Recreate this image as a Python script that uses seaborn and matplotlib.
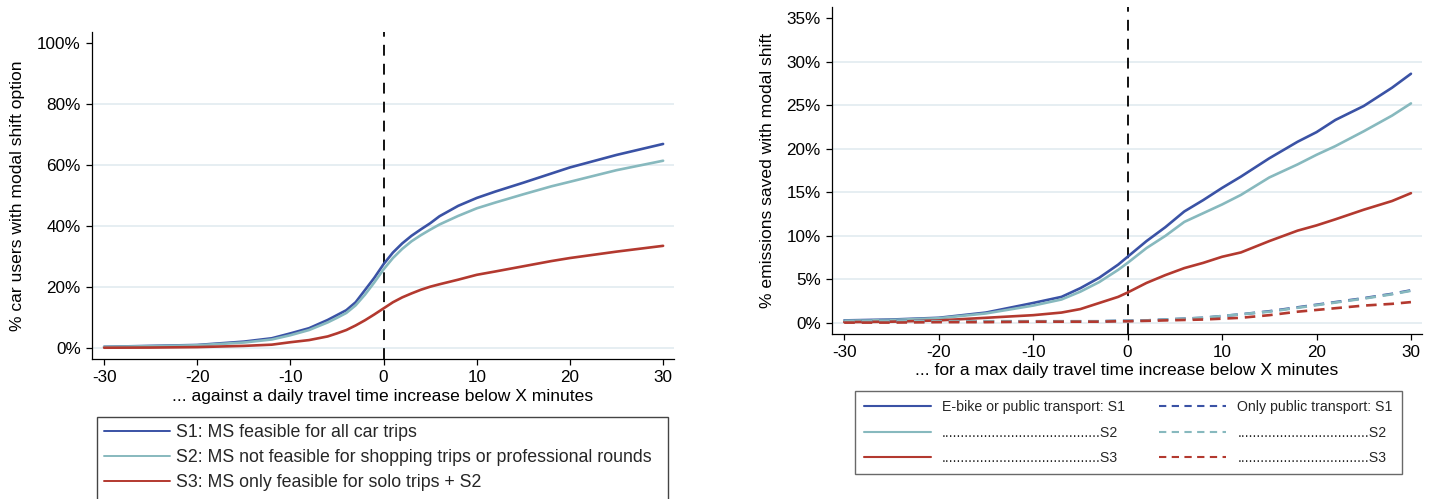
import matplotlib
matplotlib.use("Agg")
import matplotlib.pyplot as plt
from matplotlib.lines import Line2D
from matplotlib.patches import Rectangle
from matplotlib.ticker import FuncFormatter
import pandas as pd
import seaborn as sns

sns.set_style("ticks")
plt.rcParams["font.family"] = ["Liberation Sans", "DejaVu Sans"]
plt.rcParams["axes.unicode_minus"] = False

# ---- left panel: share of car users with a modal-shift option ----
x_users = [-30, -25, -20, -15, -12, -10, -8, -6, -5, -4, -3, -2, -1, 0,
           1, 2, 3, 4, 5, 6, 8, 10, 12, 15, 18, 20, 25, 30]
users_s1 = [0.4, 0.7, 1.0, 2.1, 3.2, 4.8, 6.5, 9.2, 10.8, 12.4, 15.0, 19.0, 23.0, 27.5,
            31.3, 34.3, 36.8, 38.9, 40.9, 43.2, 46.6, 49.2, 51.3, 54.2, 57.2, 59.2, 63.3, 66.9]
users_s2 = [0.4, 0.6, 0.9, 1.8, 2.8, 4.2, 5.9, 8.4, 9.9, 11.5, 14.0, 17.5, 21.5, 25.8,
            29.5, 32.5, 35.0, 37.0, 38.8, 40.5, 43.3, 45.8, 47.7, 50.4, 53.0, 54.5, 58.3, 61.4]
users_s3 = [0.1, 0.15, 0.3, 0.7, 1.1, 1.9, 2.6, 3.8, 4.8, 5.9, 7.4, 9.1, 11.0, 13.0,
            15.0, 16.6, 17.9, 19.1, 20.1, 20.9, 22.4, 24.0, 25.1, 26.8, 28.5, 29.5, 31.6, 33.5]

# ---- right panel: share of emissions saved ----
x_emis = [-30, -25, -20, -15, -10, -7, -5, -3, -1, 0, 2, 4, 6, 8, 10,
          12, 15, 18, 20, 22, 25, 28, 30]
emis_s1 = [0.3, 0.4, 0.6, 1.2, 2.3, 3.0, 4.0, 5.2, 6.7, 7.6, 9.4, 11.0, 12.8, 14.1, 15.5,
           16.8, 18.9, 20.8, 21.9, 23.3, 24.9, 27.0, 28.6]
emis_s2 = [0.25, 0.35, 0.55, 1.1, 2.0, 2.7, 3.6, 4.7, 6.1, 6.9, 8.6, 10.0, 11.6, 12.6, 13.6,
           14.7, 16.7, 18.2, 19.3, 20.3, 22.0, 23.8, 25.2]
emis_s3 = [0.1, 0.15, 0.3, 0.6, 0.9, 1.2, 1.6, 2.3, 3.0, 3.5, 4.6, 5.5, 6.3, 6.9, 7.6,
           8.1, 9.4, 10.6, 11.2, 11.9, 13.0, 14.0, 14.9]
pt_s1 = [0.25, 0.25, 0.2, 0.2, 0.2, 0.2, 0.2, 0.2, 0.25, 0.25, 0.3, 0.4, 0.5, 0.6, 0.8,
         1.0, 1.35, 1.8, 2.1, 2.4, 2.85, 3.35, 3.75]
pt_s2 = [0.25, 0.25, 0.2, 0.2, 0.2, 0.2, 0.2, 0.2, 0.25, 0.25, 0.3, 0.4, 0.5, 0.6, 0.8,
         1.0, 1.3, 1.75, 2.05, 2.35, 2.8, 3.3, 3.7]
pt_s3 = [0.05, 0.05, 0.1, 0.1, 0.15, 0.15, 0.15, 0.15, 0.2, 0.2, 0.25, 0.3, 0.35, 0.4, 0.5,
         0.6, 0.9, 1.3, 1.5, 1.7, 2.0, 2.2, 2.4]

users_labels = ["S1: MS feasible for all car trips",
                "S2: MS not feasible for shopping trips or professional rounds",
                "S3: MS only feasible for solo trips + S2"]
emis_labels = ["E-bike or public transport: S1",
               "." * 41 + "S2",
               "." * 41 + "S3",
               "Only public transport: S1",
               "." * 34 + "S2",
               "." * 34 + "S3"]

BLUE, TEAL, RED = "#3a52a5", "#87b9be", "#b3392f"
GRID = "#e4edf1"
DASH = (0, (4, 2.6))
LW = 1.9

fig = plt.figure(figsize=(14.37, 4.99), dpi=100)
W, H = 1437.0, 499.0
ax1 = fig.add_axes([92 / W, 1 - 359 / H, 582 / W, 327 / H])
ax2 = fig.add_axes([832 / W, 1 - 334 / H, 590 / W, 327 / H])

df_users = pd.DataFrame({"x": x_users, "S1": users_s1, "S2": users_s2, "S3": users_s3})
df_emis = pd.DataFrame({"x": x_emis, "S1": emis_s1, "S2": emis_s2, "S3": emis_s3,
                        "P1": pt_s1, "P2": pt_s2, "P3": pt_s3})


def style_axis(ax, ylim, yticks, ylabel, xlabel, ylab_x, xlab_y):
    ax.set_xlim(-31.3, 31.17)
    ax.set_ylim(*ylim)
    ax.set_xticks([-30, -20, -10, 0, 10, 20, 30])
    ax.set_yticks(yticks)
    ax.yaxis.set_major_formatter(FuncFormatter(lambda v, p: f"{v:.0f}%"))
    for t in yticks[:-1]:
        ax.axhline(t, color=GRID, lw=1.3, zorder=0)
    ax.axvline(0, color="black", lw=1.3, linestyle=(0, (6, 4.5)), zorder=1)
    for s in ["top", "right"]:
        ax.spines[s].set_visible(False)
    for s in ["left", "bottom"]:
        ax.spines[s].set_color("black")
        ax.spines[s].set_linewidth(0.9)
    ax.tick_params(axis="both", length=4.5, width=0.9, color="black",
                   labelsize=12.3, labelcolor="black", pad=3.6, direction="out")
    ax.set_ylabel(ylabel, fontsize=12.6, color="black")
    ax.set_xlabel(xlabel, fontsize=12.6, color="black")
    ax.yaxis.label.set_va("center")
    ax.xaxis.label.set_va("center")
    ax.yaxis.set_label_coords(ylab_x, 0.5)
    ax.xaxis.set_label_coords(0.5, xlab_y)
    ax.set_facecolor("white")


# left panel curves
for col, c in zip(["S1", "S2", "S3"], [BLUE, TEAL, RED]):
    sns.lineplot(data=df_users, x="x", y=col, ax=ax1, color=c, lw=LW, legend=False, zorder=3)
style_axis(ax1, (-3.6, 103.6), [0, 20, 40, 60, 80, 100],
           "% car users with modal shift option",
           "... against a daily travel time increase below X minutes",
           -0.128, -0.116)

# right panel curves (solid: e-bike or PT, dashed: PT only)
for col, c in zip(["S1", "S2", "S3"], [BLUE, TEAL, RED]):
    sns.lineplot(data=df_emis, x="x", y=col, ax=ax2, color=c, lw=LW, legend=False, zorder=3)
for col, c in zip(["P1", "P2", "P3"], [BLUE, TEAL, RED]):
    sns.lineplot(data=df_emis, x="x", y=col, ax=ax2, color=c, lw=LW, linestyle=DASH,
                 legend=False, zorder=3)
style_axis(ax2, (-1.26, 36.26), [0, 5, 10, 15, 20, 25, 30, 35],
           "% emissions saved with modal shift",
           "... for a max daily travel time increase below X minutes",
           -0.1085, -0.113)

# left legend: frame runs past the lower edge of the figure
LEG1_TOP = 417
h_users = [Line2D([], [], color=c, lw=1.4) for c in [BLUE, TEAL, RED]]
fig.legend(h_users, users_labels, loc="upper left",
           bbox_to_anchor=(97 / W, 1 - LEG1_TOP / H, 571 / W, 0),
           bbox_transform=fig.transFigure, mode="expand", borderaxespad=0,
           fontsize=12.8, handlelength=3.7, handletextpad=0.35,
           borderpad=0.38, labelspacing=0.45, frameon=False)
fig.add_artist(Rectangle((97 / W, -0.05), 571 / W, (1 - LEG1_TOP / H) + 0.05,
                         transform=fig.transFigure, fill=False,
                         edgecolor="#444444", linewidth=1.0))

h_emis = ([Line2D([], [], color=c, lw=1.5) for c in [BLUE, TEAL, RED]] +
          [Line2D([], [], color=c, lw=1.5, linestyle=(0, (3.5, 2.6))) for c in [BLUE, TEAL, RED]])
leg2 = fig.legend(h_emis, emis_labels, loc="upper left", ncol=2,
                  bbox_to_anchor=(855 / W, 1 - 391 / H, 547 / W, 0),
                  bbox_transform=fig.transFigure, mode="expand", borderaxespad=0,
                  fontsize=10.2, handlelength=4.7, handletextpad=0.8,
                  borderpad=0.65, labelspacing=0.8, columnspacing=2.2,
                  frameon=True, fancybox=False)
leg2.get_frame().set_edgecolor("#444444")
leg2.get_frame().set_linewidth(1.0)

fig.savefig("out.png", dpi=100, facecolor="white")
